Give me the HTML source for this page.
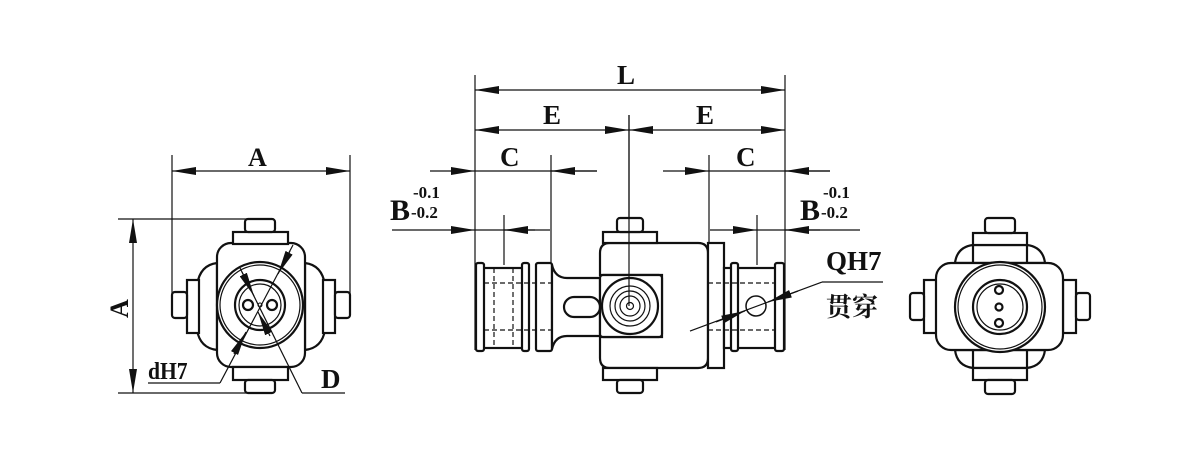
<!DOCTYPE html>
<html><head><meta charset="utf-8"><style>
html,body{margin:0;padding:0;background:#fff;width:1200px;height:455px;overflow:hidden}
svg text{font-family:"Liberation Serif","Noto Serif CJK SC",serif;fill:#111;font-weight:bold}
</style></head><body>
<svg width="1200" height="455" viewBox="0 0 1200 455" xmlns="http://www.w3.org/2000/svg">
<defs>
<marker id="ar" viewBox="0 0 24 8" refX="24" refY="4" markerWidth="24" markerHeight="8" markerUnits="userSpaceOnUse" orient="auto-start-reverse"><path d="M0,0 L24,4 L0,8 z" fill="#111"/></marker>
</defs>
<g stroke="#111" fill="none" stroke-width="1.2">
<line x1="172" y1="155" x2="172" y2="300"/>
<line x1="350" y1="155" x2="350" y2="300"/>
<line x1="172" y1="171" x2="350" y2="171" marker-start="url(#ar)" marker-end="url(#ar)"/>
<line x1="118" y1="219" x2="255" y2="219"/>
<line x1="118" y1="393" x2="255" y2="393"/>
<line x1="133" y1="219" x2="133" y2="393" marker-start="url(#ar)" marker-end="url(#ar)"/>
</g>
<g stroke="#111" fill="#fff" stroke-width="2.2">
<path d="M217,263 Q200,265 197,285 L197,330 Q200,348 217,350 Z"/>
<path d="M305,263 Q322,265 325,285 L325,330 Q322,348 305,350 Z"/>
<rect x="187" y="280" width="12" height="53"/>
<rect x="323" y="280" width="12" height="53"/>
<rect x="172" y="292" width="15" height="26" rx="3"/>
<rect x="335" y="292" width="15" height="26" rx="3"/>
<rect x="217" y="243" width="88" height="124" rx="14"/>
<rect x="233" y="232" width="55" height="12"/>
<rect x="233" y="367" width="55" height="13"/>
<rect x="245" y="219" width="30" height="13" rx="3"/>
<rect x="245" y="380" width="30" height="13" rx="3"/>
<circle cx="260" cy="305" r="43"/>
<circle cx="260" cy="305" r="40" stroke-width="1.2"/>
<circle cx="260" cy="305" r="25"/>
<circle cx="260" cy="305" r="21" stroke-width="1.2"/>
<circle cx="248" cy="305" r="5"/>
<circle cx="272" cy="305" r="5"/>
<circle cx="260" cy="305" r="2" stroke-width="1"/>
</g>
<g stroke="#111" fill="none" stroke-width="1.2">
<line x1="148" y1="383" x2="220" y2="383"/>
<line x1="220" y1="383" x2="293" y2="245"/>
<line x1="234" y1="354" x2="246" y2="332" marker-end="url(#ar)"/>
<line x1="290" y1="251" x2="278" y2="274" marker-end="url(#ar)"/>
<line x1="302" y1="393" x2="345" y2="393"/>
<line x1="302" y1="393" x2="240" y2="268"/>
<line x1="242" y1="272" x2="254" y2="296" marker-end="url(#ar)"/>
<line x1="258" y1="312" x2="270" y2="336" marker-start="url(#ar)"/>
</g>
<text x="248" y="166" font-size="26">A</text>
<text x="0" y="0" font-size="26" transform="translate(128,318) rotate(-90)">A</text>
<text x="148" y="379" font-size="24" transform="translate(148,0) scale(0.9,1) translate(-148,0)">dH7</text>
<text x="321" y="388" font-size="27">D</text>

<g stroke="#111" fill="none" stroke-width="1.2">
<line x1="475" y1="75" x2="475" y2="350"/>
<line x1="785" y1="75" x2="785" y2="350"/>
<line x1="629" y1="115" x2="629" y2="320"/>
<line x1="551" y1="155" x2="551" y2="265"/>
<line x1="709" y1="155" x2="709" y2="265"/>
<line x1="504" y1="215" x2="504" y2="265"/>
<line x1="757" y1="215" x2="757" y2="265"/>
<line x1="475" y1="90" x2="785" y2="90" marker-start="url(#ar)" marker-end="url(#ar)"/>
<line x1="475" y1="130" x2="629" y2="130" marker-start="url(#ar)" marker-end="url(#ar)"/>
<line x1="629" y1="130" x2="785" y2="130" marker-start="url(#ar)" marker-end="url(#ar)"/>
<line x1="430" y1="171" x2="475" y2="171" marker-end="url(#ar)"/>
<line x1="475" y1="171" x2="597" y2="171"/>
<line x1="597" y1="171" x2="551" y2="171" marker-end="url(#ar)"/>
<line x1="663" y1="171" x2="709" y2="171" marker-end="url(#ar)"/>
<line x1="709" y1="171" x2="830" y2="171"/>
<line x1="830" y1="171" x2="785" y2="171" marker-end="url(#ar)"/>
<line x1="392" y1="230" x2="475" y2="230" marker-end="url(#ar)"/>
<line x1="475" y1="230" x2="550" y2="230"/>
<line x1="535" y1="230" x2="504" y2="230" marker-end="url(#ar)"/>
<line x1="710" y1="230" x2="757" y2="230" marker-end="url(#ar)"/>
<line x1="757" y1="230" x2="860" y2="230"/>
<line x1="820" y1="230" x2="785" y2="230" marker-end="url(#ar)"/>
</g>
<text x="617" y="84" font-size="27">L</text>
<text x="543" y="124" font-size="27">E</text>
<text x="696" y="124" font-size="27">E</text>
<text x="500" y="166" font-size="27">C</text>
<text x="736" y="166" font-size="27">C</text>
<text x="390" y="220" font-size="30">B</text>
<text x="413" y="198" font-size="17">-0.1</text>
<text x="411" y="218" font-size="17">-0.2</text>
<text x="800" y="220" font-size="30">B</text>
<text x="823" y="198" font-size="17">-0.1</text>
<text x="821" y="218" font-size="17">-0.2</text>

<g stroke="#111" fill="#fff" stroke-width="2.2">
<rect x="478" y="268" width="48" height="80"/>
<rect x="476" y="263" width="8" height="88" rx="2"/>
<rect x="522" y="263" width="7" height="88" rx="2"/>
<rect x="536" y="263" width="16" height="88" rx="2"/>
<path d="M552,265 Q555,278 567,278 L600,278 L600,336 L567,336 Q555,336 552,349 Z"/>
<rect x="564" y="297" width="36" height="20" rx="10"/>
<path d="M610,243 L698,243 Q708,243 708,253 L708,358 Q708,368 698,368 L610,368 Q600,368 600,358 L600,337 L662,337 L662,275 L600,275 L600,253 Q600,243 610,243 Z"/>
<rect x="708" y="243" width="16" height="125"/>
<rect x="724" y="268" width="58" height="80"/>
<rect x="731" y="263" width="7" height="88" rx="2"/>
<rect x="775" y="263" width="9" height="88" rx="2"/>
<rect x="600" y="275" width="62" height="62" rx="3"/>
<rect x="603" y="232" width="54" height="11"/>
<rect x="603" y="368" width="54" height="12"/>
<rect x="617" y="218" width="26" height="14" rx="3"/>
<rect x="617" y="380" width="26" height="13" rx="3"/>
<circle cx="630" cy="306" r="28"/>
<circle cx="630" cy="306" r="20" stroke-width="1.2"/>
<circle cx="630" cy="306" r="15" stroke-width="1.2"/>
<circle cx="630" cy="306" r="10" stroke-width="1.2"/>
<circle cx="630" cy="306" r="3.5" stroke-width="1.2"/>
<circle cx="756" cy="306" r="10" stroke-width="1.5"/>
</g>
<g stroke="#111" fill="none" stroke-width="1.2" stroke-dasharray="5,3">
<line x1="484" y1="283" x2="552" y2="283"/>
<line x1="484" y1="330" x2="552" y2="330"/>
<line x1="708" y1="283" x2="775" y2="283"/>
<line x1="708" y1="330" x2="775" y2="330"/>
<line x1="552" y1="265" x2="552" y2="349"/>
<line x1="494" y1="268" x2="494" y2="348"/>
<line x1="513" y1="268" x2="513" y2="348"/>
</g>
<g stroke="#111" fill="none" stroke-width="1.2">
<line x1="629" y1="115" x2="629" y2="306"/>
<line x1="690" y1="331" x2="822" y2="282"/>
<line x1="822" y1="282" x2="883" y2="282"/>
<line x1="716" y1="322" x2="745" y2="311" marker-end="url(#ar)"/>
<line x1="798" y1="291" x2="768" y2="302" marker-end="url(#ar)"/>
</g>
<text x="826" y="270" font-size="27">QH7</text>
<text x="826" y="316" font-size="26" font-weight="normal">贯穿</text>

<g stroke="#111" fill="#fff" stroke-width="2.2">
<path d="M955,263 Q957,247 973,245 L1027,245 Q1043,247 1045,263 Z"/>
<path d="M955,350 Q957,366 973,368 L1027,368 Q1043,366 1045,350 Z"/>
<rect x="924" y="280" width="13" height="53"/>
<rect x="1063" y="280" width="13" height="53"/>
<rect x="910" y="293" width="14" height="27" rx="3"/>
<rect x="1076" y="293" width="14" height="27" rx="3"/>
<rect x="936" y="263" width="127" height="87" rx="15"/>
<rect x="973" y="233" width="54" height="12"/>
<rect x="973" y="368" width="54" height="12"/>
<rect x="985" y="218" width="30" height="15" rx="3"/>
<rect x="985" y="380" width="30" height="14" rx="3"/>
<line x1="973" y1="245" x2="973" y2="263"/><line x1="1027" y1="245" x2="1027" y2="263"/>
<line x1="973" y1="350" x2="973" y2="368"/><line x1="1027" y1="350" x2="1027" y2="368"/>
<circle cx="1000" cy="307" r="45"/>
<circle cx="1000" cy="307" r="42" stroke-width="1.2"/>
<circle cx="1000" cy="307" r="27"/>
<circle cx="1000" cy="307" r="23" stroke-width="1.2"/>
<circle cx="999" cy="290" r="4"/>
<circle cx="999" cy="307" r="3.5"/>
<circle cx="999" cy="323" r="4"/>
</g>
</svg>
</body></html>
